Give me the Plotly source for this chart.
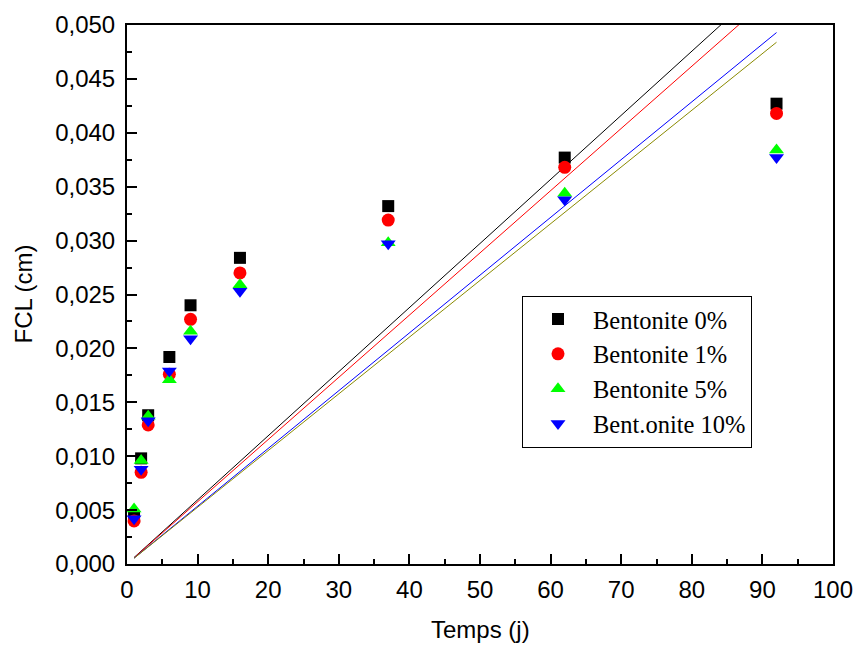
import plotly.graph_objects as go

# Time (days) and measured FCL (cm) for each bentonite dosage
temps = [1, 2, 3, 6, 9, 16, 37, 62, 92]
bent_0 = [0.0044, 0.0098, 0.0138, 0.0192, 0.0240, 0.0284, 0.0332, 0.0377, 0.0427]
bent_1 = [0.0040, 0.0085, 0.0129, 0.0176, 0.0227, 0.0270, 0.0319, 0.0368, 0.0418]
bent_5 = [0.0051, 0.0096, 0.0137, 0.0171, 0.0216, 0.0259, 0.0298, 0.0344, 0.0384]
bent_10 = [0.0042, 0.0088, 0.0133, 0.0179, 0.0209, 0.0253, 0.0297, 0.0338, 0.0377]

series_names = ["Bentonite 0%", "Bentonite 1%", "Bentonite 5%", "Bent.onite 10%"]

# Straight reference lines: start/end points over the time span
fit_t = [1, 92]
fit_black = [0.00060, 0.0547]
fit_red = [0.00058, 0.0531]
fit_blue = [0.00054, 0.0493]
fit_olive = [0.00053, 0.0484]

fig = go.Figure()

for ys, col in [(fit_black, "black"), (fit_red, "#ff0000"),
                (fit_blue, "#0000ff"), (fit_olive, "#8a8a00")]:
    fig.add_trace(go.Scatter(x=fit_t, y=ys, mode="lines",
                             line=dict(color=col, width=1),
                             showlegend=False, hoverinfo="skip"))

markers = [
    (bent_0, "square", "black", 12),
    (bent_1, "circle", "#ff0000", 13),
    (bent_5, "triangle-up", "#00ff00", 13),
    (bent_10, "triangle-down", "#0000ff", 13),
]
for name, (ys, sym, col, sz) in zip(series_names, markers):
    fig.add_trace(go.Scatter(x=temps, y=ys, mode="markers", name=name,
                             marker=dict(symbol=sym, color=col, size=sz,
                                         line=dict(width=0)),
                             cliponaxis=False))

sans = "Liberation Sans, Arial, sans-serif"
axis_font = dict(family=sans, size=24, color="black")

fig.update_layout(
    width=858, height=651,
    margin=dict(l=127, r=25, t=25, b=87),
    paper_bgcolor="white", plot_bgcolor="white",
    separators=", ",
    font=axis_font,
    showlegend=True,
    legend=dict(
        x=0.5595, y=0.498, xanchor="left", yanchor="top",
        bgcolor="white", bordercolor="black", borderwidth=1,
        font=dict(family="Liberation Serif, Times New Roman, serif", size=24.5, color="black"),
        itemsizing="trace", itemwidth=60,
    ),
    xaxis=dict(
        range=[0, 100], dtick=10, tick0=0, automargin=False,
        showgrid=False, zeroline=False,
        showline=True, linecolor="black", linewidth=2, mirror=True,
        ticks="inside", ticklen=10, tickwidth=2, tickcolor="black",
        minor=dict(ticks="inside", ticklen=5, tickwidth=2, tickcolor="black", dtick=5),
        tickfont=axis_font, ticklabelstandoff=3,
    ),
    yaxis=dict(
        range=[0, 0.05], dtick=0.005, tick0=0, tickformat=".3f", automargin=False,
        showgrid=False, zeroline=False,
        showline=True, linecolor="black", linewidth=2, mirror=True,
        ticks="inside", ticklen=10, tickwidth=2, tickcolor="black",
        minor=dict(ticks="inside", ticklen=5, tickwidth=2, tickcolor="black", dtick=0.0025),
        tickfont=axis_font, ticklabelstandoff=5,
    ),
    annotations=[
        dict(text="Temps (j)", xref="paper", yref="paper", x=0.5, y=-0.1223,
             xanchor="center", yanchor="middle", showarrow=False,
             font=dict(family=sans, size=24, color="black")),
        dict(text="FCL (cm)", xref="paper", yref="paper", x=-0.1473, y=0.5,
             xanchor="center", yanchor="middle", showarrow=False, textangle=-90,
             font=dict(family=sans, size=24, color="black")),
    ],
)

fig.write_html("out.html")
